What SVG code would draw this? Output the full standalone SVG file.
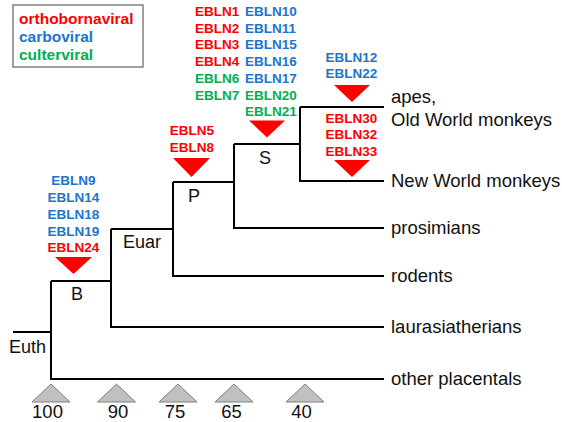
<svg xmlns="http://www.w3.org/2000/svg" width="562" height="422" viewBox="0 0 562 422">
<style>
.e{font-family:"Liberation Sans",Arial,sans-serif;font-weight:bold;font-size:13.5px}
.r{fill:#ff0000}.b{fill:#1a75cf}.g{fill:#00b050}
.t{font-family:"Liberation Sans",Arial,sans-serif;font-size:18.5px;fill:#111}
.n{font-family:"Liberation Sans",Arial,sans-serif;font-size:18px;fill:#111}
.lg{font-family:"Liberation Sans",Arial,sans-serif;font-weight:bold;font-size:15.5px}
.tri{fill:#ff0000}
.ax{fill:#c0c0c0;stroke:#808080;stroke-width:1}
.br{fill:none;stroke:#000;stroke-width:2}
</style>
<rect width="562" height="422" fill="#fff"/>
<g id="legend">
<rect x="13" y="5" width="130" height="62" fill="#fff" stroke="#808080" stroke-width="1.5"/>
<text class="lg r" x="19" y="24">orthobornaviral</text>
<text class="lg b" x="19" y="42">carboviral</text>
<text class="lg g" x="19" y="60">culterviral</text>
</g>
<g id="connectors">
<path class="br" d="M13 332H51M51 281V379H384M51 281H111M111 229V327H384M111 229H173M173 182V276H384M173 182H234M234 144V228H384M234 144H300M300 107V181H384M300 107H384"/>
</g>
<g id="node-Euth"><text class="n" x="9" y="353">Euth</text></g>
<g id="node-B">
<text class="n" x="71" y="300">B</text>
<text class="e b" x="73.5" y="185.3" text-anchor="middle">EBLN9</text>
<text class="e b" x="73.5" y="202" text-anchor="middle">EBLN14</text>
<text class="e b" x="73.5" y="218.8" text-anchor="middle">EBLN18</text>
<text class="e b" x="73.5" y="235.6" text-anchor="middle">EBLN19</text>
<text class="e r" x="73.5" y="252.4" text-anchor="middle">EBLN24</text>
<polygon class="tri" points="55,257 92,257 73.5,274"/>
</g>
<g id="node-Euar"><text class="n" x="123" y="248">Euar</text></g>
<g id="node-P">
<text class="n" x="188" y="202">P</text>
<text class="e r" x="192" y="134.8" text-anchor="middle">EBLN5</text>
<text class="e r" x="192" y="151.5" text-anchor="middle">EBLN8</text>
<polygon class="tri" points="173,158 210,158 191.5,177"/>
</g>
<g id="node-S">
<text class="n" x="259" y="164">S</text>
<text class="e r" x="195" y="15.8">EBLN1</text>
<text class="e r" x="195" y="32.5">EBLN2</text>
<text class="e r" x="195" y="49.3">EBLN3</text>
<text class="e r" x="195" y="66.1">EBLN4</text>
<text class="e g" x="195" y="82.8">EBLN6</text>
<text class="e g" x="195" y="99.6">EBLN7</text>
<text class="e b" x="245" y="15.8">EBLN10</text>
<text class="e b" x="245" y="32.5">EBLN11</text>
<text class="e b" x="245" y="49.3">EBLN15</text>
<text class="e b" x="245" y="66.1">EBLN16</text>
<text class="e b" x="245" y="82.8">EBLN17</text>
<text class="e g" x="245" y="99.6">EBLN20</text>
<text class="e g" x="245" y="116.4">EBLN21</text>
<polygon class="tri" points="249,120.5 285,120.5 267,137.5"/>
</g>
<g id="node-apes-markers">
<text class="e b" x="351.5" y="61.5" text-anchor="middle">EBLN12</text>
<text class="e b" x="351.5" y="78.3" text-anchor="middle">EBLN22</text>
<polygon class="tri" points="334,85 370,85 352,102"/>
<text class="e r" x="351.5" y="122.8" text-anchor="middle">EBLN30</text>
<text class="e r" x="351.5" y="139.4" text-anchor="middle">EBLN32</text>
<text class="e r" x="351.5" y="156.2" text-anchor="middle">EBLN33</text>
<polygon class="tri" points="334,160 370,160 352,177"/>
</g>
<g id="leaf-apes"><text class="t" x="391" y="103">apes,</text><text class="t" x="391" y="126">Old World monkeys</text></g>
<g id="leaf-nwm"><text class="t" x="391" y="186.5">New World monkeys</text></g>
<g id="leaf-prosimians"><text class="t" x="391" y="233.5">prosimians</text></g>
<g id="leaf-rodents"><text class="t" x="391" y="281.5">rodents</text></g>
<g id="leaf-laurasiatherians"><text class="t" x="391" y="332.5">laurasiatherians</text></g>
<g id="leaf-other"><text class="t" x="391" y="384.5">other placentals</text></g>
<g id="axis">
<polygon class="ax" points="51,384 70,402 32,402"/>
<polygon class="ax" points="116.5,384 135.5,402 97.5,402"/>
<polygon class="ax" points="178,384 197,402 159,402"/>
<polygon class="ax" points="234,384 253,402 215,402"/>
<polygon class="ax" points="305,384 324,402 286,402"/>
<text class="t" x="47.5" y="418" text-anchor="middle">100</text>
<text class="t" x="118" y="418" text-anchor="middle">90</text>
<text class="t" x="175" y="418" text-anchor="middle">75</text>
<text class="t" x="231.5" y="418" text-anchor="middle">65</text>
<text class="t" x="301.5" y="418" text-anchor="middle">40</text>
</g>
</svg>
